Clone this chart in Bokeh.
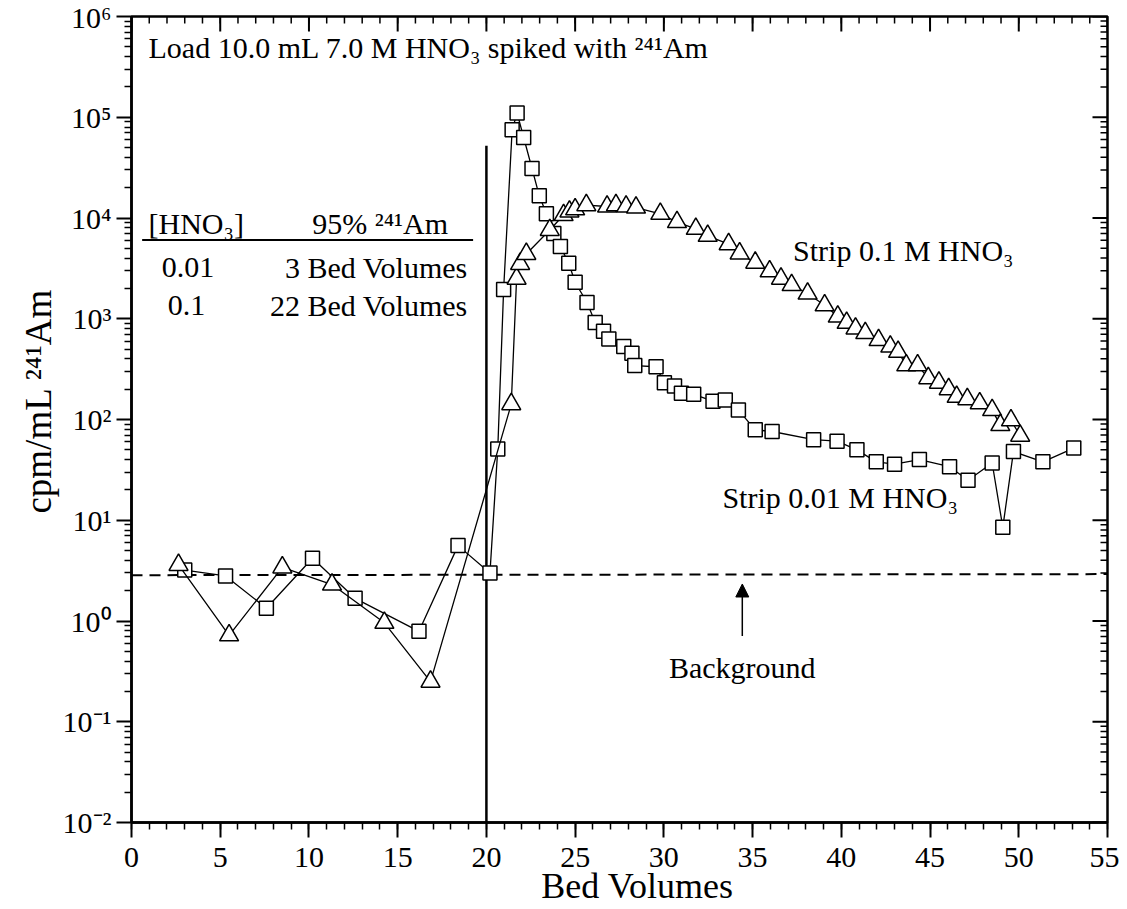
from bokeh.plotting import figure
from bokeh.models import (Range1d, FixedTicker, CustomJSTickFormatter, Label, Arrow, NormalHead)
from bokeh.embed import file_html
from bokeh.resources import INLINE

FONT = "Liberation Serif"

# ---- data: strip with 0.01 M HNO3 (squares) ----
sq_bv = [3.0, 5.3, 7.6, 10.2, 12.6, 16.2, 18.4, 20.2, 20.64, 20.97, 21.45, 21.73, 22.1, 22.57,
         22.98, 23.38, 23.8, 24.17, 24.64, 25.0, 25.67, 26.13, 26.6, 26.9, 27.74, 28.2, 28.36,
         29.56, 30.03, 30.6, 30.99, 31.68, 32.77, 33.46, 34.2, 35.15, 36.1, 38.44, 39.76, 40.88,
         41.97, 43.0, 44.4, 46.1, 47.14, 48.5, 49.1, 49.7, 51.36, 53.1]
sq_cpm = [3.2, 2.8, 1.34, 4.2, 1.68, 0.79, 5.6, 3.0, 51, 1950, 75000, 110000, 63000, 31000,
          16600, 11000, 7000, 5200, 3550, 2300, 1450, 920, 750, 630, 530, 454, 343,
          334, 232, 215, 182, 178, 152, 156, 124, 79, 76, 63, 61, 50,
          38, 36, 40, 34, 25, 37, 8.5, 48, 38, 52]

# ---- data: strip with 0.1 M HNO3 (triangles) ----
tri_bv = [2.65, 5.5, 8.5, 11.3, 14.25, 16.85, 21.4, 21.7, 21.9, 22.25, 23.57, 24.35, 24.68,
          25.0, 25.63, 26.8, 27.3, 27.87, 28.43, 29.8, 30.74, 31.8, 32.47, 33.65, 34.27, 35.15,
          35.96, 36.6, 37.2, 38.1, 39.06, 39.8, 40.3, 40.8, 41.35, 42.1, 42.76, 43.2, 43.66,
          44.3, 44.9, 45.5, 46.05, 46.5, 47.1, 47.8, 48.5, 48.96, 49.56, 50.08]
tri_cpm = [3.6, 0.72, 3.4, 2.3, 0.96, 0.25, 142, 2500, 3500, 4400, 7600, 10700, 11600,
           12200, 13400, 13000, 13400, 13000, 12700, 11000, 9100, 7800, 6650, 5500, 4450, 3600,
           2960, 2500, 2160, 1780, 1360, 1050, 910, 800, 720, 615, 530, 470, 345,
           345, 257, 232, 200, 168, 159, 145, 124, 88, 98, 69]

background_bv = [0, 55]
background_cpm = [2.85, 2.92]
load_end_bv = [20, 20]
load_end_cpm = [0.01, 5.2e4]

x_ticks = list(range(0, 56, 5))
x_minor = list(range(0, 56))
y_ticks = [10.0 ** e for e in range(-2, 7)]
y_minor = [m * 10.0 ** e for e in range(-2, 6) for m in range(2, 10)]

X0, X1, YLO, YHI = 0, 55, 1e-2, 1e6
FW, FH = 976, 806
px_x = FW / (X1 - X0)          # pixels per bed volume
px_dec = FH / 8.0              # pixels per decade

p = figure(width=1119, height=909, x_range=Range1d(X0, X1), y_range=Range1d(YLO, YHI),
           y_axis_type="log", output_backend="svg", toolbar_location=None,
           min_border_left=131, min_border_right=12, min_border_top=16, min_border_bottom=87)
p.background_fill_color = "white"
p.border_fill_color = "white"
p.outline_line_color = "black"
p.outline_line_width = 2.5
p.xgrid.visible = False
p.ygrid.visible = False

sup_js = """
const sup = {"-":"\u207b","0":"\u2070","1":"\u00b9","2":"\u00b2","3":"\u00b3","4":"\u2074",
             "5":"\u2075","6":"\u2076","7":"\u2077","8":"\u2078","9":"\u2079"};
const e = Math.round(Math.log10(tick));
return "10" + String(e).split("").map(c => sup[c]).join("");
"""

def style_axis(ax):
    ax.axis_line_width = 2.5
    ax.axis_line_color = "black"
    ax.major_tick_line_width = 2
    ax.minor_tick_line_width = 1.5
    ax.major_tick_in = 0
    ax.major_tick_out = 15
    ax.minor_tick_in = 0
    ax.minor_tick_out = 7
    ax.major_label_text_font = FONT
    ax.major_label_text_color = "black"
    ax.major_label_text_font_size = "30px"
    ax.axis_label_text_font = FONT
    ax.axis_label_text_font_style = "normal"
    ax.axis_label_text_font_size = "36px"
    ax.axis_label_text_color = "black"

NB = "\u00a0"
xa = p.xaxis[0]
xa.ticker = FixedTicker(ticks=x_ticks, minor_ticks=x_minor)
style_axis(xa)
xa.major_label_standoff = 10
xa.axis_label = NB * 4 + "Bed Volumes"
xa.axis_label_standoff = -4

ya = p.yaxis[0]
ya.ticker = FixedTicker(ticks=y_ticks, minor_ticks=y_minor)
ya.formatter = CustomJSTickFormatter(code=sup_js)
style_axis(ya)
ya.major_label_standoff = 5
ya.axis_label = NB * 4 + "cpm/mL \u00b2\u2074\u00b9Am"
ya.axis_label_text_font_size = "37px"
ya.axis_label_standoff = 1

# inward ticks on the top and right frame edges
maj_len, min_len = 15, 7
top_maj = 10 ** (6 - maj_len / px_dec)
top_min = 10 ** (6 - min_len / px_dec)
p.segment(x0=x_ticks, y0=[YHI] * len(x_ticks), x1=x_ticks, y1=[top_maj] * len(x_ticks),
          line_color="black", line_width=2)
p.segment(x0=x_minor, y0=[YHI] * len(x_minor), x1=x_minor, y1=[top_min] * len(x_minor),
          line_color="black", line_width=1.5)
p.segment(x0=[X1] * len(y_ticks), y0=y_ticks, x1=[X1 - maj_len / px_x] * len(y_ticks), y1=y_ticks,
          line_color="black", line_width=2)
p.segment(x0=[X1] * len(y_minor), y0=y_minor, x1=[X1 - min_len / px_x] * len(y_minor), y1=y_minor,
          line_color="black", line_width=1.5)

# background level and end of load
p.line(background_bv, background_cpm, line_color="black", line_width=2, line_dash="11 7")
p.line(load_end_bv, load_end_cpm, line_color="black", line_width=2.5)

# series
p.line(sq_bv, sq_cpm, line_color="black", line_width=1.3)
p.scatter(sq_bv, sq_cpm, marker="square", size=14, fill_color="white",
          line_color="black", line_width=1.5)
p.line(tri_bv, tri_cpm, line_color="black", line_width=1.3)
p.scatter(tri_bv, tri_cpm, marker="triangle", size=19, fill_color="white",
          line_color="black", line_width=1.5)

def lab(x, y, text, align="left", size="30px"):
    p.add_layout(Label(x=x, y=y, text=text, text_font=FONT, text_font_size=size,
                       text_align=align, text_baseline="middle", text_color="black"))

lab(0.96, 4.87e5, "Load 10.0 mL 7.0 M HNO\u2083 spiked with \u00b2\u2074\u00b9Am")
lab(0.96, 8720, "[HNO\u2083]")
lab(10.18, 8720, "95% \u00b2\u2074\u00b9Am")
p.line([0.6, 19.25], [6050, 6050], line_color="black", line_width=2)
lab(3.19, 3190, "0.01", align="center")
lab(18.95, 3190, "3 Bed Volumes", align="right")
lab(3.1, 1340, "0.1", align="center")
lab(18.95, 1340, "22 Bed Volumes", align="right")
lab(37.28, 4810, "Strip 0.1 M HNO\u2083")
lab(33.3, 17.0, "Strip 0.01 M HNO\u2083")
lab(34.42, 0.349, "Background", align="center")
p.add_layout(Arrow(end=NormalHead(size=13, fill_color="black", line_color="black"),
                   x_start=34.42, y_start=0.71, x_end=34.42, y_end=2.33,
                   line_color="black", line_width=1.5))

open("out.html", "w").write(file_html(p, INLINE))
